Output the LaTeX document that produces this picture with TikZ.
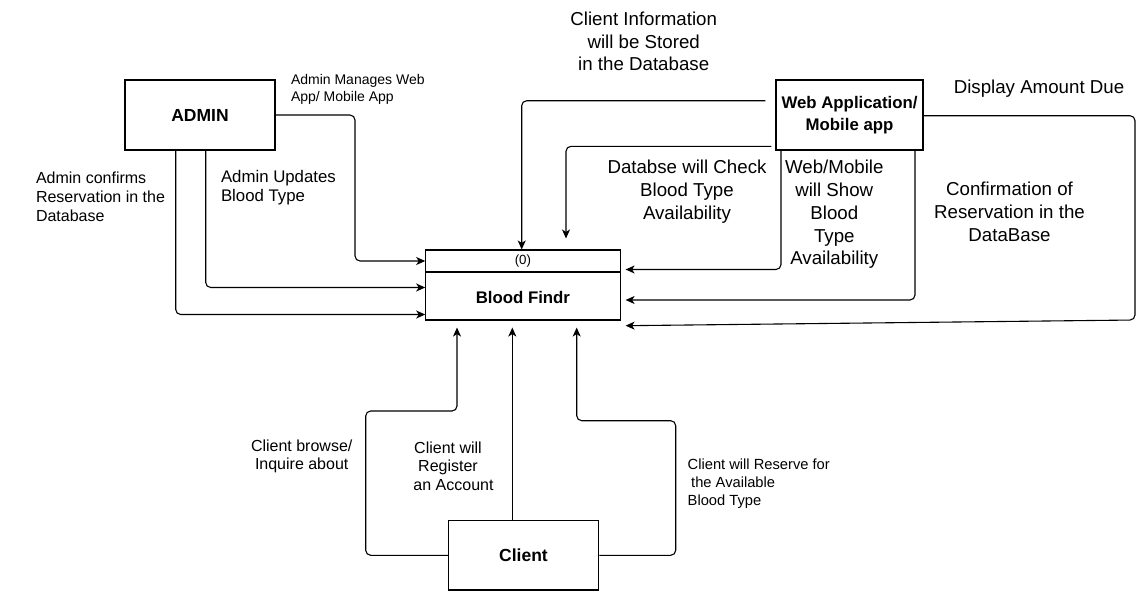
\documentclass[tikz,border=0pt]{standalone}
\usepackage{fontspec}
\setmainfont{Liberation Sans}
\usetikzlibrary{arrows.meta}
\newcommand\szBig{\fontsize{18.7}{22.8}\selectfont}
\newcommand\szMed{\fontsize{16.8}{19.5}\selectfont}
\newcommand\szSm{\fontsize{16}{18.7}\selectfont}
\newcommand\szXs{\fontsize{14.7}{18.3}\selectfont}
\newcommand\szTiny{\fontsize{14}{16.8}\selectfont}
\begin{document}
\begin{tikzpicture}[x=1pt,y=-1pt,
  box/.style={draw,line width=1.1pt,inner sep=0pt},
  lbl/.style={inner sep=0pt,outer sep=0pt,text=black},
  conn/.style={line width=1.1pt,rounded corners=5pt,-{Stealth[length=9pt,width=8pt,inset=2.5pt]}}]
\useasboundingbox (0,0) rectangle (1145,592);
\fill[white] (0,0) rectangle (1145,592);

% boxes
\node[box,minimum width=150pt,minimum height=70pt,font=\fontsize{17.5}{20}\selectfont\bfseries] (admin) at (200,115) {ADMIN};
\node[box,minimum width=194.3pt,minimum height=70pt] (bf) at (522.9,285) {};
\draw[line width=1.1pt] (bf.west |- 0,272) -- (bf.east |- 0,272);
\node[lbl,font=\fontsize{13.3}{16}\selectfont] (zero) at (522.9,261.5) {(0)};
\node[lbl,font=\fontsize{16.8}{20}\selectfont\bfseries] (bfname) at (522.9,297) {Blood Findr};
\node[box,minimum width=147pt,minimum height=70pt,align=center,font=\fontsize{16.8}{21.5}\selectfont\bfseries] (web) at (849.5,115) {Web Application/\\Mobile app};
\node[box,minimum width=150.4pt,minimum height=69.3pt,font=\fontsize{17.5}{20}\selectfont\bfseries] (client) at (523.5,555.3) {Client};

% labels
\node[lbl,align=center,font=\szBig] (tci) at (643.7,41.5) {Client Information\\will be Stored\\in the Database};
\node[lbl,font=\szBig] (tdad) at (1039,88.8) {Display Amount Due};
\node[lbl,align=left,anchor=west,font=\szTiny] (tamw) at (291,89.5) {Admin Manages Web\\App/ Mobile App};
\node[lbl,align=left,anchor=west,font=\fontsize{16}{19.2}\selectfont] (tacr) at (36,196.5) {Admin confirms\\Reservation in the\\Database};
\node[lbl,align=left,anchor=west,font=\szMed] (taub) at (221,187.5) {Admin Updates\\Blood Type};
\node[lbl,align=center,font=\szBig] (tdwc) at (687,191.5) {Databse will Check\\Blood Type\\Availability};
\node[lbl,align=center,font=\szBig] (twms) at (834.3,214.5) {Web/Mobile\\will Show\\Blood\\Type\\Availability};
\node[lbl,align=center,font=\szBig] (tconf) at (1009.5,212) {Confirmation of\\Reservation in the\\DataBase};
\node[lbl,align=center,font=\szSm] (tcb) at (301.7,456.5) {Client browse/\\Inquire about};
\node[lbl,align=center,font=\szSm] (tcwr) at (448,466) {Client will\\Register\\\hspace*{11pt}an Account};
\node[lbl,align=left,anchor=west,font=\szXs] (tcrf) at (687.7,483.8) {Client will Reserve for\\\hspace*{3.5pt}the Available\\Blood Type};

% connectors from ADMIN
\draw[conn] (admin.east) -- (355,115) -- (355,261) -- (bf.west |- 0,261);
\draw[conn] (admin.south -| 205.7,0) -- (205.7,287.5) -- (bf.west |- 0,287.5);
\draw[conn] (admin.south -| 175.7,0) -- (175.7,314.5) -- (bf.west |- 0,314.5);

% connectors from Web Application
\draw[conn] ([xshift=-10pt]web.west |- 0,100.7) -- (521.7,100.7) -- (bf.north -| 521.7,0);
\draw[conn] ([xshift=-4pt]web.west |- 0,146.3) -- (566,146.3) -- ([yshift=11pt]bf.north -| 566,0);
\draw[conn] (web.south -| 781,0) -- (781,269.5) -- ([xshift=5pt]bf.east |- 0,269.5);
\draw[conn] (web.south -| 915,0) -- (915,300) -- ([xshift=5pt]bf.east |- 0,300);
\draw[conn] (web.east |- 0,115.7) -- (1135,115.7) -- (1135,320) -- ([xshift=5pt]bf.east |- 0,325.7);

% connectors from Client
\draw[conn] (client.west) -- (365.7,555.3) -- (365.7,411) -- (457,411) -- ([yshift=-7pt]bf.south -| 457,0);
\draw[conn] (client.north -| 512.3,0) -- ([yshift=-7pt]bf.south -| 512.3,0);
\draw[conn] (client.east) -- (675.7,555.3) -- (675.7,420.7) -- (576.7,420.7) -- ([yshift=-7pt]bf.south -| 576.7,0);
\end{tikzpicture}
\end{document}
